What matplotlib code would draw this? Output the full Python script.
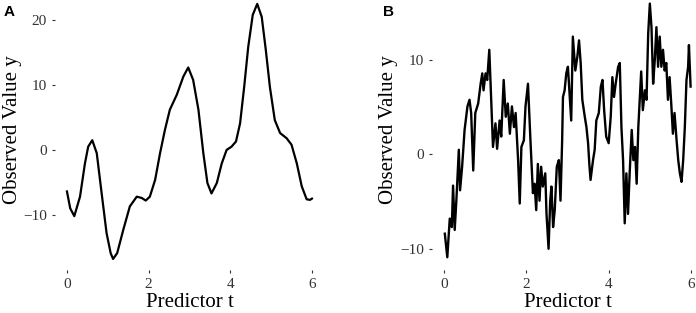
import numpy as np
import matplotlib
matplotlib.use('Agg')
import matplotlib.pyplot as plt

# panel A: smooth curve
ta = [0, 0.08, 0.18, 0.32, 0.44, 0.52, 0.62, 0.73, 0.85, 0.97,
      1.07, 1.13, 1.23, 1.38, 1.54, 1.71, 1.83, 1.93, 2.03, 2.16,
      2.28, 2.40, 2.52, 2.69, 2.85, 2.97, 3.09, 3.22, 3.34, 3.44,
      3.54, 3.67, 3.79, 3.91, 4.03, 4.14, 4.24, 4.34, 4.44, 4.55,
      4.66, 4.77, 4.87, 4.97, 5.09, 5.22, 5.38, 5.50, 5.63, 5.75,
      5.87, 5.95, 6.0]
ya = [-6.4, -9.0, -10.2, -7.2, -2.1, 0.5, 1.5, -0.5, -6.7, -12.8,
      -15.9, -16.8, -15.9, -12.3, -8.7, -7.2, -7.4, -7.8, -7.2, -4.6,
      -0.5, 3.1, 6.2, 8.5, 11.3, 12.7, 10.8, 6.2, -0.5, -5.1,
      -6.7, -5.1, -2.1, 0, 0.5, 1.3, 4.1, 9.7, 15.9, 20.8,
      22.5, 20.5, 15.4, 9.7, 4.6, 2.6, 1.8, 0.8, -2.1, -5.6,
      -7.6, -7.7, -7.5]

# panel B: rough path
tb = [0.02, 0.08, 0.14, 0.19, 0.22, 0.26, 0.30, 0.36, 0.39, 0.44,
      0.50, 0.57, 0.62, 0.66, 0.71, 0.76, 0.83, 0.89, 0.93, 0.96,
      1.01, 1.05, 1.10, 1.19, 1.25, 1.29, 1.35, 1.39, 1.45, 1.50,
      1.55, 1.60, 1.65, 1.70, 1.74, 1.80, 1.84, 1.88, 1.94, 1.98,
      2.04, 2.10, 2.16, 2.20, 2.24, 2.28, 2.32, 2.36, 2.40, 2.46,
      2.49, 2.54, 2.58, 2.61, 2.65, 2.69, 2.74, 2.79, 2.83, 2.87,
      2.89, 2.93, 2.97, 3.01, 3.05, 3.09, 3.13, 3.19, 3.24, 3.28,
      3.32, 3.36, 3.42, 3.46, 3.50, 3.53, 3.56, 3.62, 3.66, 3.70,
      3.76, 3.81, 3.85, 3.89, 3.94, 4.00, 4.05, 4.09, 4.13, 4.17,
      4.23, 4.27, 4.31, 4.35, 4.39, 4.43, 4.47, 4.51, 4.56, 4.60,
      4.64, 4.68, 4.72, 4.79, 4.83, 4.88, 4.92, 4.96, 5.00, 5.04,
      5.08, 5.12, 5.16, 5.20, 5.24, 5.28, 5.32, 5.36, 5.40, 5.44,
      5.48, 5.52, 5.56, 5.60, 5.65, 5.69, 5.73, 5.77, 5.81, 5.85,
      5.89, 5.93, 5.95, 5.99]
yb = [-8.4, -10.9, -6.8, -7.7, -3.3, -8.0, -4.9, 0.5, -3.8, -1.3,
      2.6, 5.1, 5.8, 4.4, -1.7, 4.4, 5.4, 7.5, 8.6, 6.8,
      8.6, 7.9, 11.1, 0.8, 3.3, 0.6, 3.6, 1.9, 7.9, 4.0,
      5.4, 2.2, 5.1, 2.9, 4.4, -0.6, -5.2, 0.8, 1.5, 5.1,
      7.5, 1.5, -4.1, -3.1, -5.9, -1.0, -4.9, -1.3, -3.4, -2.0,
      -6.3, -10.0, -4.9, -3.4, -7.7, -5.9, -1.3, -0.6, -4.9, 1.5,
      6.1, 6.8, 8.6, 9.3, 6.5, 3.6, 12.5, 8.9, 10.4, 12.1,
      9.7, 5.8, 4.0, 2.9, 1.2, -1.0, -2.7, -0.6, 0.5, 3.6,
      4.4, 7.2, 7.9, 4.7, 1.9, 1.2, 4.0, 8.2, 6.1, 7.5,
      9.3, 9.7, 2.9, -0.6, -7.3, -2.0, -6.3, -2.0, 2.6, -0.6,
      0.8, -3.1, 2.9, 8.8, 4.7, 6.8, 5.8, 12.8, 16.0, 13.5,
      7.5, 10.0, 13.5, 9.3, 12.5, 9.3, 11.1, 8.9, 9.7, 5.8,
      8.2, 5.4, 2.2, 4.4, 1.5, -0.6, -2.0, -2.9, -0.6, 2.9,
      7.9, 9.3, 11.6, 7.2]

xticks = [0, 2, 4, 6]
yticks_a = [-10, 0, 10, 20]
yticks_b = [-10, 0, 10]

W, H = 696, 313
fig = plt.figure(figsize=(W / 100, H / 100), dpi=100)

serif = ['Liberation Serif', 'DejaVu Serif']

def style(ax, yticks):
    for s in ax.spines.values():
        s.set_visible(False)
    ax.set_xticks(xticks)
    ax.set_yticks(yticks)
    ax.tick_params(length=2.5, width=0.8, pad=3, color='#333333',
                   labelcolor='#333333', labelsize=11)
    for lab in ax.get_xticklabels() + ax.get_yticklabels():
        lab.set_family(serif)
    ax.set_xlabel('Predictor t', family=serif, fontsize=15, labelpad=2)
    ax.set_ylabel('Observed Value y', family=serif, fontsize=15)
    ax.patch.set_alpha(0)

# panel A
axa = fig.add_axes([54.7 / W, 1 - 270 / H, 269.5 / W, 270 / H])
axa.plot(ta, ya, color='black', lw=1.6, solid_joinstyle='round')
axa.set_xlim(-0.3, 6.3)
axa.set_ylim(-18.5, 23.1)
style(axa, yticks_a)
axa.yaxis.set_label_coords(-(54.7 - 22) / 269.5, 0.52)

# panel B
axb = fig.add_axes([431.65 / W, 1 - 270 / H, 271.7 / W, 270 / H])
axb.plot(tb, yb, color='black', lw=1.7, solid_joinstyle='round')
axb.set_xlim(-0.3, 6.3)
axb.set_ylim(-12.25, 16.38)
style(axb, yticks_b)
axb.yaxis.set_label_coords(-(431.65 - 398) / 271.7, 0.52)

fig.text(4 / W, 1 - 16 / H, 'A', fontsize=11, fontweight='bold',
         family=['Liberation Sans', 'DejaVu Sans'])
fig.text(383 / W, 1 - 16 / H, 'B', fontsize=11, fontweight='bold',
         family=['Liberation Sans', 'DejaVu Sans'])

fig.savefig('out.png', dpi=100)
